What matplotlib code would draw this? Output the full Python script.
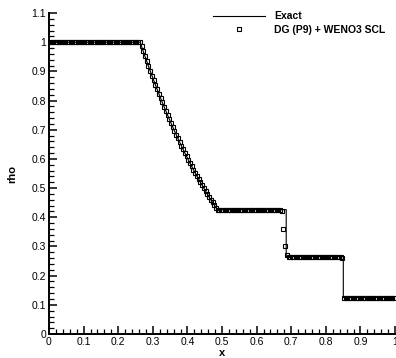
import numpy as np
import matplotlib
matplotlib.use("Agg")
import matplotlib.pyplot as plt
from matplotlib.ticker import MultipleLocator, FormatStrFormatter

plt.rcParams['font.family'] = ['Liberation Sans', 'DejaVu Sans']

# density values read along the rarefaction fan (x = 0.2675 ... 0.4825, step 0.005)
fan_rho = [0.9855, 0.9682, 0.9512, 0.9344, 0.9178, 0.9015, 0.8854, 0.8695,
           0.8539, 0.8385, 0.8233, 0.8083, 0.7936, 0.7791, 0.7648, 0.7507,
           0.7367, 0.7231, 0.7096, 0.6963, 0.6832, 0.6704, 0.6577, 0.6452,
           0.6329, 0.6207, 0.6088, 0.5971, 0.5855, 0.5741, 0.5629, 0.5519,
           0.5410, 0.5303, 0.5198, 0.5095, 0.4993, 0.4893, 0.4794, 0.4697,
           0.4602, 0.4508, 0.4416, 0.4325]
fan_x = [0.2675 + 0.005 * k for k in range(len(fan_rho))]

# exact solution
exact_x = [0.0, 0.2634] + fan_x + [0.4859, 0.6854, 0.6854, 0.8504, 0.8504, 1.0]
exact_rho = [1.0, 1.0] + fan_rho + [0.4263, 0.4263, 0.2656, 0.2656, 0.125, 0.125]

# DG (P9) + WENO3 SCL solution points
dg_x = np.arange(200) * 0.005 + 0.0025
dg_rho = ([1.0] * 53 + fan_rho + [0.4263] * 37 + [0.42, 0.36, 0.30, 0.27]
          + [0.2656] * 31 + [0.26] + [0.125] * 30)

fig = plt.figure(figsize=(3.96, 3.58), dpi=100)
ax = fig.add_axes([0.1237, 0.067, 0.874, 0.8966])

ax.plot(exact_x, exact_rho, color='black', lw=0.8, label='Exact')
ax.plot(dg_x, dg_rho, ls='none', marker='s', ms=3.0, mfc='none', mec='black',
        mew=0.8, label='DG (P9) + WENO3 SCL')

ax.set_xlim(0, 1)
ax.set_ylim(0, 1.1)
ax.xaxis.set_major_locator(MultipleLocator(0.1))
ax.xaxis.set_minor_locator(MultipleLocator(0.02))
ax.yaxis.set_major_locator(MultipleLocator(0.1))
ax.yaxis.set_minor_locator(MultipleLocator(0.02))
ax.xaxis.set_major_formatter(FormatStrFormatter('%g'))
ax.yaxis.set_major_formatter(FormatStrFormatter('%g'))

ax.spines['top'].set_visible(False)
ax.spines['right'].set_visible(False)
ax.spines['left'].set_linewidth(1.4)
ax.spines['bottom'].set_linewidth(1.4)
ax.tick_params(which='major', direction='in', length=6, width=1.1, labelsize=7.5, pad=2)
ax.tick_params(which='minor', direction='in', length=3.5, width=0.9)

ax.set_xlabel('x', fontsize=8, fontweight='bold', labelpad=1)
ax.set_ylabel('rho', fontsize=8, fontweight='bold', labelpad=10)

ax.legend(loc='upper right', bbox_to_anchor=(1.0, 1.035), frameon=False,
          prop={'weight': 'bold', 'size': 7.5}, handlelength=5,
          handletextpad=0.9, labelspacing=0.35)

fig.savefig('out.png', dpi=100)
